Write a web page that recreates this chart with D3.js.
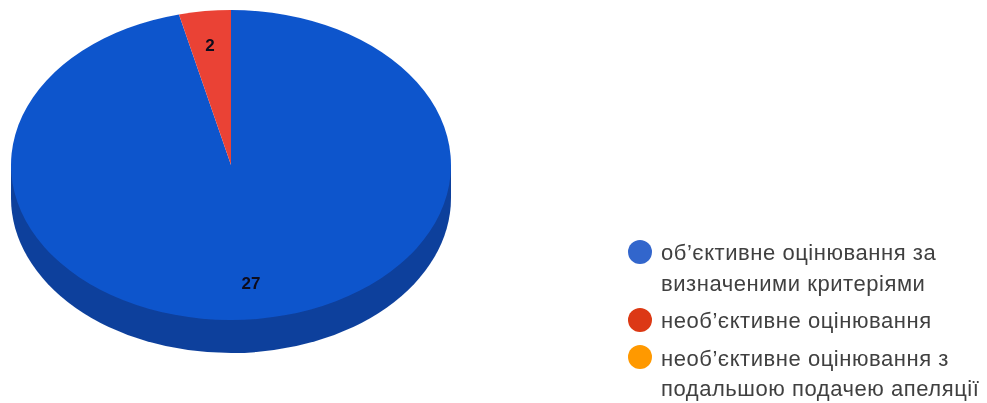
<!DOCTYPE html>
<html><head><meta charset="utf-8">
<script src="https://cdn.jsdelivr.net/npm/d3@7"></script>
<style>html,body{margin:0;padding:0;background:#fff;overflow:hidden}svg{display:block}</style>
</head><body><svg id="c" width="987" height="403"></svg>
<script>
const legendLabels = [
  ["об’єктивне оцінювання за", "визначеними критеріями"],
  ["необ’єктивне оцінювання"],
  ["необ’єктивне оцінювання з", "подальшою подачею апеляції"]
];
const sliceValues = [27, 2, 0];
// Angular share of each slice as drawn in the picture (%)
const drawnShares = [96.2, 3.8, 0];
const sliceColors = ["#1155cc", "#ea4335", "#ff9900"];
const legendColors = ["#3366cc", "#dc3912", "#ff9900"];
const sideColor = "#0e409c";

const svg = d3.select("#c");
const cx = 231, cy = 165, rx = 220, ry = 155, depth = 33;
const defs = svg.append("defs");
defs.append("filter").attr("id","soft").append("feGaussianBlur").attr("stdDeviation",0.45);

const pie = d3.pie().sort(null);
const arcs = pie(drawnShares);
const arcGen = d3.arc().innerRadius(0).outerRadius(rx);
const sy = ry / rx;

const chart = svg.append("g").attr("filter","url(#soft)");
// extruded side
const side = chart.append("g").attr("transform",`translate(${cx},${cy}) scale(1,${sy})`);
side.append("path")
  .attr("d", d3.arc().innerRadius(0).outerRadius(rx).startAngle(Math.PI/2).endAngle(3*Math.PI/2)())
  .attr("transform",`translate(0,${depth/sy})`).attr("fill",sideColor);
side.append("rect").attr("x",-rx).attr("width",2*rx).attr("y",0).attr("height",depth/sy).attr("fill",sideColor);
// top face
const face = chart.append("g").attr("transform",`translate(${cx},${cy}) scale(1,${sy})`);
face.selectAll("path").data(arcs).join("path")
  .attr("d", d => arcGen({startAngle:d.startAngle, endAngle:d.endAngle}))
  .attr("fill",(d,i)=>sliceColors[i]);

// value labels
const labelPos = [[251,283],[210,45]];
chart.selectAll("text.v").data(sliceValues.slice(0,2)).join("text").attr("class","v")
  .attr("x",(d,i)=>labelPos[i][0]).attr("y",(d,i)=>labelPos[i][1])
  .attr("dy","0.36em").attr("text-anchor","middle")
  .attr("font-family","'Liberation Sans',Arial,sans-serif").attr("font-weight","bold")
  .attr("font-size",17).attr("fill","#0a0a1e").text(d=>d);

// legend
const legend = svg.append("g").attr("filter","url(#soft)");
const dotY = [252, 320, 357];
const lineYs = [[252,283],[320],[358,388]];
legendLabels.forEach((lines,i)=>{
  legend.append("circle").attr("cx",640).attr("cy",dotY[i]).attr("r",12).attr("fill",legendColors[i]);
  lines.forEach((t,j)=>{
    legend.append("text").attr("x",661).attr("y",lineYs[i][j]).attr("dy","0.36em")
      .attr("font-family","'Liberation Sans',Arial,sans-serif").attr("font-size",22)
      .attr("letter-spacing",0.55).attr("fill","#404040").text(t);
  });
});
</script></body></html>
